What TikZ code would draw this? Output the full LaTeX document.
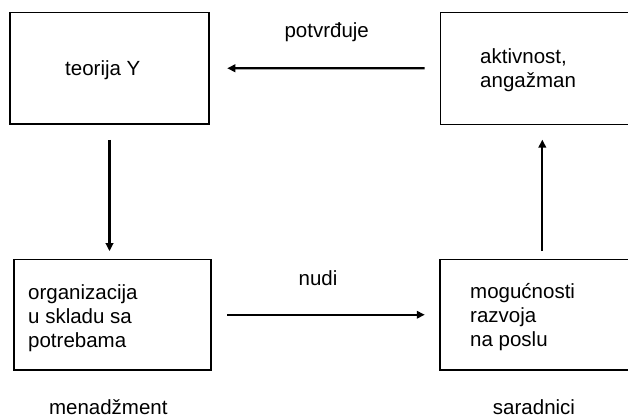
\documentclass[tikz,border=0pt]{standalone}
\usepackage{fontspec}
\setmainfont{Liberation Sans}
\usetikzlibrary{arrows.meta}
\begin{document}
\begin{tikzpicture}[x=1pt,y=-1pt,
  box/.style={draw=black, line width=1.1pt, inner sep=0pt},
  txt/.style={font=\fontsize{20.5}{24}\selectfont, align=left, inner sep=0pt, anchor=base west},
  flow/.style={-{Triangle[length=8pt,width=7.5pt]}, line width=2.3pt}
]
\useasboundingbox (0,0) rectangle (628,419);
\clip (0,0) rectangle (628,419);

% boxes
\node[box, minimum width=199pt,   minimum height=111.5pt] (tl) at (109.5,68.25) {};
\node[box, minimum width=203.2pt, minimum height=111.5pt] (tr) at (542.3,68.35) {};
\node[box, minimum width=197pt,   minimum height=110.5pt] (bl) at (112.5,314.75) {};
\node[box, minimum width=204.6pt, minimum height=110.5pt] (br) at (542.3,314.75) {};

% box texts (multi-line nodes are placed by the baseline of their last line)
\node[txt] (tlt) at (65,76) {teorija Y};
\node[txt] (trt) at (480,88) {aktivnost,\\angažman};
\node[txt] (blt) at (28,347) {organizacija\\u skladu sa\\potrebama};
\node[txt] (brt) at (470,346.5) {mogućnosti\\razvoja\\na poslu};

% captions under the lower boxes
\node[txt, anchor=base] (mgr) at (108.3,414.5) {menadžment};
\node[txt, anchor=base] (emp) at (534,414.5) {saradnici};

% arrow labels
\node[txt, anchor=base] (lab1) at (326.7,38) {potvrđuje};
\node[txt, anchor=base] (lab2) at (318,285) {nudi};

% connectors
\draw[flow, shorten <=15.5pt, shorten >=17.7pt] (tr.west) -- (tl.east);
\draw[flow, shorten <=15.3pt, shorten >=7.8pt] (tl.south) -- (tl.south |- bl.north);
\draw[flow, shorten <=15.7pt, shorten >=14.7pt] (bl.east) -- (br.west);
\draw[flow, shorten <=7.8pt, shorten >=15pt] (br.north) -- (tr.south);
\end{tikzpicture}
\end{document}
